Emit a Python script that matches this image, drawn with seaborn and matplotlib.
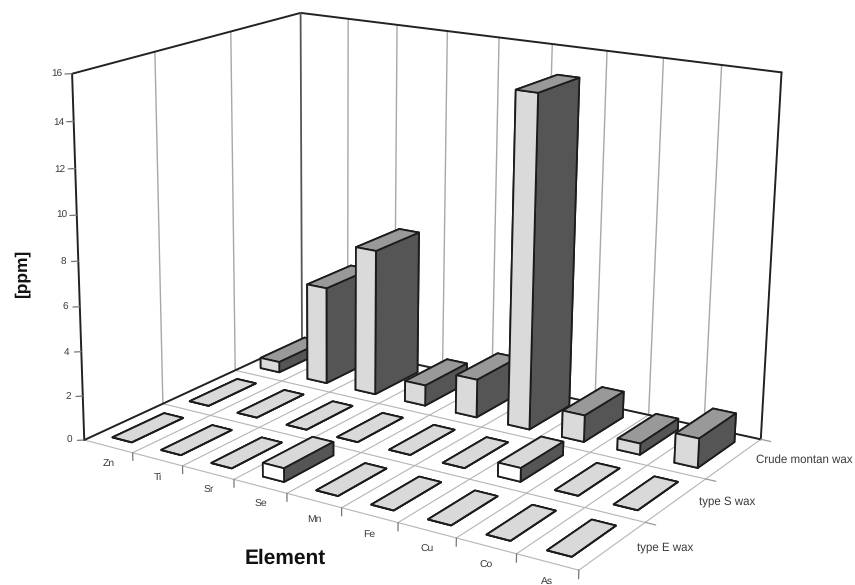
import matplotlib
matplotlib.use('Agg')
import matplotlib.pyplot as plt
import numpy as np
import seaborn as sns

sns.set_theme(style='white')
plt.rcParams['font.family'] = ['Liberation Sans', 'DejaVu Sans']
plt.rcParams['text.hinting'] = 'none'

# Data
elements = ['Zn', 'Ti', 'Sr', 'Se', 'Mn', 'Fe', 'Cu', 'Co', 'As']
waxes = ['type E wax', 'type S wax', 'Crude montan wax']
type_e = [0, 0, 0, 0.6, 0, 0, 0, 0, 0]
type_s = [0, 0, 0, 0, 0, 0, 0.6, 0, 0]
crude = [0.5, 4.55, 6.75, 0.95, 1.75, 14.9, 1.2, 0.5, 1.3]
ppm_ticks = [0, 2, 4, 6, 8, 10, 12, 14, 16]

PX_W, PX_H = 855, 585
ZMAX = ppm_ticks[-1]
NX, NY = len(elements), len(waxes)

fig = plt.figure(figsize=(PX_W / 100, PX_H / 100), dpi=100)
# square 3d axes that covers the whole figure
ax = fig.add_axes([0, (1 - PX_W / PX_H) / 2, 1, PX_W / PX_H],
                  projection='3d', computed_zorder=False)
ax.set_axis_off()
ax.apply_aspect()

# Where the corners of the plot box sit in the picture (pixels, y down)
box_corners = [
    ((0, 0, 0), (86, 440)), ((NX, 0, 0), (578, 571)),
    ((NX, NY, 0), (762, 438)), ((0, NY, 0), (300, 340)),
    ((0, 0, ZMAX), (71, 73)), ((0, NY, ZMAX), (302, 13)),
    ((NX, NY, ZMAX), (781, 73)),
]


def camera():
    # Fit a pinhole camera to the box corners, replaces the azim/elev one
    rows = []
    for (x, y, z), (px, py) in box_corners:
        u, v = ax.transData.inverted().transform((px, PX_H - py))
        rows.append([x, y, z, 1, 0, 0, 0, 0, -u * x, -u * y, -u * z, -u])
        rows.append([0, 0, 0, 0, x, y, z, 1, -v * x, -v * y, -v * z, -v])
    p = np.linalg.svd(np.array(rows))[2][-1].reshape(3, 4)
    if p[2, 3] < 0:
        p = -p
    # third row gives depth for the sorting, farther = larger
    return np.vstack([p[0], p[1], [0, 0, 0, -1], p[2]])


ax.get_proj = camera


def label(x, y, z, s, **kw):
    # plain 2d text at the projected spot
    q = camera() @ np.array([x, y, z, 1])
    ax.text2D(q[0] / q[3], q[1] / q[3], s, transform=ax.transData,
              color='#3a3a3a', va='center', **kw)


black = '#222222'
grid_col = '#a8a8a8'
floor_col = '#b5b5b5'
dark = '#555555'

# Floor grid
for i in range(NX + 1):
    ax.plot([i, i], [0, NY], [0, 0], color=floor_col, lw=0.8)
for j in range(NY + 1):
    ax.plot([0, NX], [j, j], [0, 0], color=floor_col, lw=0.8)

# Wall grid lines, no horizontal ones in the original
for i in range(1, NX):
    ax.plot([i, i], [NY, NY], [0, ZMAX], color=grid_col, lw=1)
for j in range(1, NY):
    ax.plot([0, 0], [j, j], [0, ZMAX], color=grid_col, lw=1)

# Box outline
ax.plot([0, 0, NX, NX], [0, NY, NY, NY], [0, 0, 0, ZMAX], color=black, lw=1.4)
ax.plot([0, 0, 0, NX], [0, 0, NY, NY], [0, ZMAX, ZMAX, ZMAX], color=black, lw=1.4)
ax.plot([0, 0], [NY, NY], [0, ZMAX], color='#555555', lw=1.3)

# Ticks, the ppm ones come out level in the picture
for z in ppm_ticks:
    ax.plot([-0.08, 0], [-0.036, 0], [z, z], color='#777777', lw=0.9)
    label(-0.17, -0.077, z, str(z), fontsize=7.2, ha='center')
for i in range(1, NX + 1):
    ax.plot([i, i], [0, 0], [-0.35, 0], color='#777777', lw=0.9)
for j in range(1, NY + 1):
    ax.plot([NX, NX + 0.17], [j, j], [0, 0], color='#999999', lw=0.9)

# Bars, back to front so that nearer ones cover the others
bar_dx, bar_dy = 0.40, 0.66
#          -z, +z, -y, +y, -x, +x
faces_plain = ['#d9d9d9', '#d9d9d9', '#ffffff', dark, dark, dark]
faces_crude = ['#999999', '#999999', '#dadada', dark, dark, dark]
series = [type_e, type_s, crude]
for j in reversed(range(NY)):
    faces = faces_crude if waxes[j].startswith('Crude') else faces_plain
    for i in range(NX):
        ax.bar3d(i + (1 - bar_dx) / 2, j + (1 - bar_dy) / 2, 0, bar_dx, bar_dy,
                 series[j][i], color=faces, shade=False,
                 edgecolor='#1c1c1c', linewidth=1.3, zorder=3)

# Labels
for i, name in enumerate(elements):
    label(i + 0.5, 0, -0.8, name, fontsize=7.5, ha='center')
for j, name in enumerate(waxes):
    label(NX + 0.38, j + 0.5, 0.18, name, fontsize=8.3, ha='left')

fig.text(285 / PX_W, 1 - 558 / PX_H, 'Element', fontsize=15, fontweight='bold',
         color='#111111', ha='center', va='center')
fig.text(22 / PX_W, 1 - 274 / PX_H, '[ppm]', fontsize=12.5, fontweight='bold',
         color='#111111', rotation=90, ha='center', va='center')

fig.savefig('out.png', dpi=100, facecolor='white')
